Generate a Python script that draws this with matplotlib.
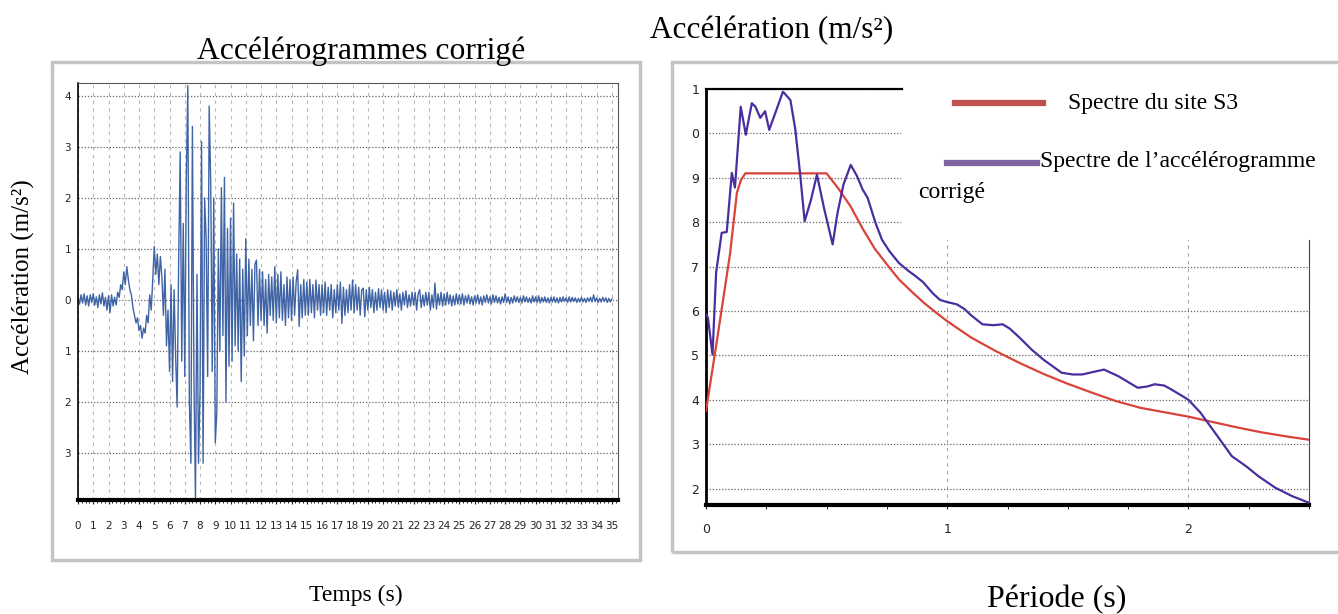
import numpy as np
import matplotlib
matplotlib.use('Agg')
import matplotlib.pyplot as plt
from matplotlib.patches import Rectangle
from matplotlib.lines import Line2D
from matplotlib.ticker import MultipleLocator

W, H = 1338, 614

# accelerogram, one value every 0.1 s (m/s2)
acc_dt = 0.1
acc_v = [
    0.05, -0.08, 0.1, -0.06, 0.12, -0.1, 0.08, -0.12, 0.1, -0.05,
    0.12, -0.1, 0.06, -0.15, 0.1, -0.08, 0.14, -0.12, 0.05, -0.2,
    0.08, -0.25, 0.1, -0.12, 0.05, -0.1, 0.15, 0.05, 0.3, 0.2,
    0.55, 0.3, 0.65, 0.4, 0.2, 0.1, -0.15, -0.3, -0.45, -0.35,
    -0.6, -0.5, -0.75, -0.55, -0.65, -0.3, -0.45, 0.1, -0.2, 0.4,
    1.05, 0.5, 0.9, 0.3, 0.85, 0.45, -0.3, 0.6, -0.9, -0.2,
    -1.4, 0.3, -1.6, 0.2, -1.1, -2.1, 0.8, 2.9, -1.2, 1.5,
    -1.5, 2.4, 4.2, -2.0, -3.2, 3.4, -1.5, -3.9, 0.5, -3.2,
    -1.8, 3.1, -3.2, 2.0, 1.2, -1.5, 3.8, 2.3, -1.4, 2.0,
    -2.8, -2.2, 1.0, -1.0, 2.2, -0.7, 2.4, -2.0, 1.4, -1.3,
    1.6, -1.2, 1.9, -0.9, 0.9, -1.0, 0.8, -1.6, 0.6, -1.1,
    1.2, -0.7, 0.8, -0.5, 0.6, -0.8, 0.7, 0.78, -0.5, 0.6,
    -0.4, 0.55, -0.5, 0.4, -0.65, 0.5, -0.3, 0.45, -0.4, 0.65,
    -0.45, 0.5, -0.35, 0.55, -0.4, 0.3, -0.5, 0.45, -0.35, 0.4,
    -0.4, 0.45, -0.3, 0.35, 0.59, -0.52, 0.3, -0.35, 0.4, -0.3,
    0.35, -0.3, 0.4, -0.25, 0.3, -0.35, 0.39, -0.2, 0.3, -0.3,
    0.3, -0.25, 0.35, -0.3, 0.25, -0.2, 0.3, -0.35, 0.2, -0.25,
    0.3, -0.2, 0.35, -0.46, 0.25, -0.3, 0.2, -0.25, 0.3, -0.2,
    0.39, -0.25, 0.3, -0.2, 0.25, -0.3, 0.2, 0.23, -0.33, 0.2,
    -0.2, 0.25, -0.15, 0.2, -0.25, 0.15, -0.2, 0.22, -0.15, 0.2,
    -0.2, 0.15, -0.25, 0.2, -0.15, 0.18, -0.2, 0.15, -0.12, 0.2,
    -0.15, 0.12, -0.2, 0.15, -0.1, 0.18, -0.15, 0.1, -0.12, 0.15,
    -0.1, 0.15, -0.2, 0.12, 0.2, -0.15, 0.1, -0.12, 0.15, -0.1,
    0.15, -0.2, 0.1, -0.15, 0.33, -0.18, 0.12, -0.1, 0.15, -0.12,
    0.12, -0.1, 0.15, -0.08, 0.1, -0.12, 0.08, -0.1, 0.12, -0.08,
    0.1, -0.08, 0.12, -0.1, 0.08, -0.06, 0.1, -0.08, 0.06, -0.1,
    0.08, -0.06, 0.1, -0.08, 0.06, -0.1, 0.08, -0.05, 0.1, -0.06,
    0.06, -0.08, 0.1, -0.05, 0.08, -0.06, 0.05, -0.08, 0.06, -0.05,
    0.12, -0.05, 0.06, -0.08, 0.05, -0.06, 0.08, -0.04, 0.06, -0.05,
    0.05, -0.06, 0.08, -0.04, 0.06, -0.05, 0.04, -0.06, 0.08, -0.04,
    0.06, -0.05, 0.08, -0.06, 0.05, -0.04, 0.06, -0.05, 0.04, -0.06,
    0.05, -0.04, 0.06, -0.05, 0.04, -0.06, 0.05, -0.04, 0.06, -0.03,
    0.04, -0.05, 0.06, -0.04, 0.05, -0.03, 0.04, -0.05, 0.03, -0.04,
    0.05, -0.04, 0.03, -0.05, 0.04, -0.03, 0.05, -0.04, 0.1, -0.03,
    0.04, -0.05, 0.03, -0.04, 0.05, -0.03, 0.04, -0.05, 0.03, -0.04,
    0.02,
]
acc_t = np.arange(len(acc_v)) * acc_dt
acc_yticks = [-3, -2, -1, 0, 1, 2, 3, 4]
acc_ylabels = ['3', '2', '1', '0', '1', '2', '3', '4']

# response spectra
site_T = [0.0, 0.05, 0.10, 0.128, 0.145, 0.163, 0.30, 0.50, 0.55, 0.60, 0.65,
          0.70, 0.75, 0.80, 0.85, 0.90, 0.95, 1.0, 1.1, 1.2, 1.3, 1.4, 1.5,
          1.6, 1.7, 1.8, 1.9, 2.0, 2.1, 2.2, 2.3, 2.4, 2.5]
site_A = [3.75, 5.5, 7.3, 8.66, 8.95, 9.1, 9.1, 9.1, 8.75, 8.35, 7.85,
          7.4, 7.05, 6.71, 6.45, 6.2, 5.98, 5.77, 5.4, 5.1, 4.83, 4.58, 4.36,
          4.16, 3.97, 3.82, 3.72, 3.62, 3.5, 3.38, 3.27, 3.18, 3.1]

acc_T = [0.0, 0.008, 0.027, 0.042, 0.065, 0.086, 0.107, 0.12, 0.144, 0.165,
         0.19, 0.205, 0.225, 0.245, 0.262, 0.29, 0.319, 0.35, 0.37, 0.39,
         0.409, 0.435, 0.46, 0.49, 0.525, 0.545, 0.57, 0.60, 0.625, 0.65,
         0.67, 0.703, 0.73, 0.76, 0.80, 0.84, 0.87, 0.9, 0.94, 0.97,
         1.0, 1.04, 1.07, 1.1, 1.146, 1.19, 1.23, 1.26, 1.3, 1.35,
         1.4, 1.474, 1.52, 1.56, 1.6, 1.65, 1.71, 1.75, 1.79, 1.83,
         1.86, 1.9, 1.93, 1.97, 2.0, 2.05, 2.11, 2.18, 2.24, 2.29,
         2.36, 2.43, 2.5]
acc_S = [5.92, 5.85, 5.02, 6.87, 7.76, 7.78, 9.11, 8.78, 10.6, 9.97,
         10.68, 10.6, 10.35, 10.5, 10.08, 10.5, 10.94, 10.75, 10.1, 9.1,
         8.02, 8.5, 9.07, 8.3, 7.5, 8.2, 8.85, 9.29, 9.05, 8.73,
         8.55, 7.98, 7.6, 7.35, 7.08, 6.9, 6.78, 6.65, 6.4, 6.25,
         6.2, 6.15, 6.05, 5.9, 5.7, 5.68, 5.7, 5.6, 5.4, 5.13,
         4.9, 4.61, 4.57, 4.57, 4.62, 4.68, 4.53, 4.4, 4.27, 4.3,
         4.35, 4.32, 4.23, 4.1, 4.0, 3.71, 3.26, 2.73, 2.5, 2.28,
         2.02, 1.83, 1.68]
spec_yticks = [2, 3, 4, 5, 6, 7, 8, 9, 10, 11]
spec_ylabels = ['2', '3', '4', '5', '6', '7', '8', '9', '0', '1']

serif = 'Liberation Serif'
fig = plt.figure(figsize=(W / 100, H / 100), dpi=100)


def box(x0, y0, x1, y1):
    # grey screenshot frame, pixel coords from top-left
    fig.patches.append(Rectangle((x0 / W, 1 - y1 / H), (x1 - x0) / W, (y1 - y0) / H,
                                 transform=fig.transFigure, facecolor='none',
                                 edgecolor='#c4c4c4', lw=2.5, zorder=0))


box(52, 62, 640, 560)
box(672, 62, 1345, 552)

# ---- left: accelerogram ----
ax1 = fig.add_axes([78 / W, 1 - 500 / H, 540 / W, 417 / H])
ax1.plot(acc_t, acc_v, color='#3f64a6', lw=1.0)
ax1.set_xlim(0, 35.4)
ax1.set_ylim(-3.92, 4.25)
ax1.set_xticks(range(0, 36))
ax1.xaxis.set_minor_locator(MultipleLocator(0.25))
ax1.set_yticks(acc_yticks)
ax1.set_yticklabels(acc_ylabels)
ax1.grid(axis='y', linestyle=(0, (1, 1.5)), color='#666666', lw=0.9)
ax1.grid(axis='x', linestyle=(0, (3, 4)), color='#b8b8b8', lw=0.8)
ax1.tick_params(axis='x', labelsize=7.5, length=3, pad=12, colors='#222')
ax1.tick_params(axis='x', which='minor', length=2)
ax1.tick_params(axis='y', labelsize=7.5, length=0, pad=5, colors='#222')
ax1.spines['bottom'].set_linewidth(3)
ax1.spines['left'].set_linewidth(1.2)
for s in ('top', 'right'):
    ax1.spines[s].set_color('#555')
    ax1.spines[s].set_linewidth(0.8)

fig.text(361 / W, 1 - 51 / H, 'Accélérogrammes corrigé', family=serif, size=22.8,
         ha='center', va='center')
fig.text(23 / W, 1 - 277 / H, 'Accélération (m/s²)', family=serif, size=18,
         rotation=90, ha='center', va='center')
fig.text(356 / W, 1 - 595 / H, 'Temps (s)', family=serif, size=17,
         ha='center', va='center')

# ---- right: spectra ----
ax2 = fig.add_axes([706 / W, 1 - 505 / H, 603 / W, 416 / H])
ax2.plot(site_T, site_A, color='#d8433a', lw=1.6, zorder=3)
ax2.plot(acc_T, acc_S, color='#4a2ea0', lw=1.6, zorder=3)
ax2.set_xlim(0, 2.5)
ax2.set_ylim(1.63, 11)
ax2.set_xticks([0, 1, 2])
ax2.xaxis.set_minor_locator(MultipleLocator(0.25))
ax2.set_yticks(spec_yticks)
ax2.set_yticklabels(spec_ylabels)
ax2.grid(axis='y', linestyle=(0, (1, 1.5)), color='#666666', lw=0.9)
ax2.grid(axis='x', linestyle=(0, (3, 4)), color='#a8a8a8', lw=0.8)
ax2.tick_params(axis='x', labelsize=9, length=3, pad=10, colors='#222')
ax2.tick_params(axis='x', which='minor', length=3)
ax2.tick_params(axis='y', labelsize=9, length=0, pad=5, colors='#222')
ax2.spines['bottom'].set_linewidth(3)
ax2.spines['left'].set_linewidth(2)
ax2.spines['top'].set_visible(False)
ax2.spines['right'].set_bounds(1.63, 7.6)
ax2.spines['right'].set_color('#444')
ax2.axhline(11, xmax=0.325, color='black', lw=1.6, clip_on=False)
# blank legend area over the upper right of the grid
ax2.add_patch(Rectangle((0.81, 7.6), 1.9, 3.6, facecolor='white', edgecolor='none',
                        zorder=1.8, clip_on=False))

fig.lines.append(Line2D([955 / W, 1043 / W], [1 - 103 / H, 1 - 103 / H],
                        transform=fig.transFigure, color='#c0504d', lw=4.5))
fig.lines.append(Line2D([947 / W, 1037 / W], [1 - 163 / H, 1 - 163 / H],
                        transform=fig.transFigure, color='#8064a2', lw=4.5))
fig.text(1068 / W, 1 - 103 / H, 'Spectre du site S3', family=serif, size=17,
         ha='left', va='center')
fig.text(1040 / W, 1 - 161 / H, 'Spectre de l\u2019accélérogramme', family=serif,
         size=17, ha='left', va='center')
fig.text(918 / W, 1 - 193 / H, 'corrigé', family=serif, size=17, ha='left', va='center')

fig.text(772 / W, 1 - 31 / H, 'Accélération (m/s²)', family=serif, size=22.5,
         ha='center', va='center')
fig.text(1057 / W, 1 - 600 / H, 'Période (s)', family=serif, size=23,
         ha='center', va='center')

fig.savefig('out.png', dpi=100)
